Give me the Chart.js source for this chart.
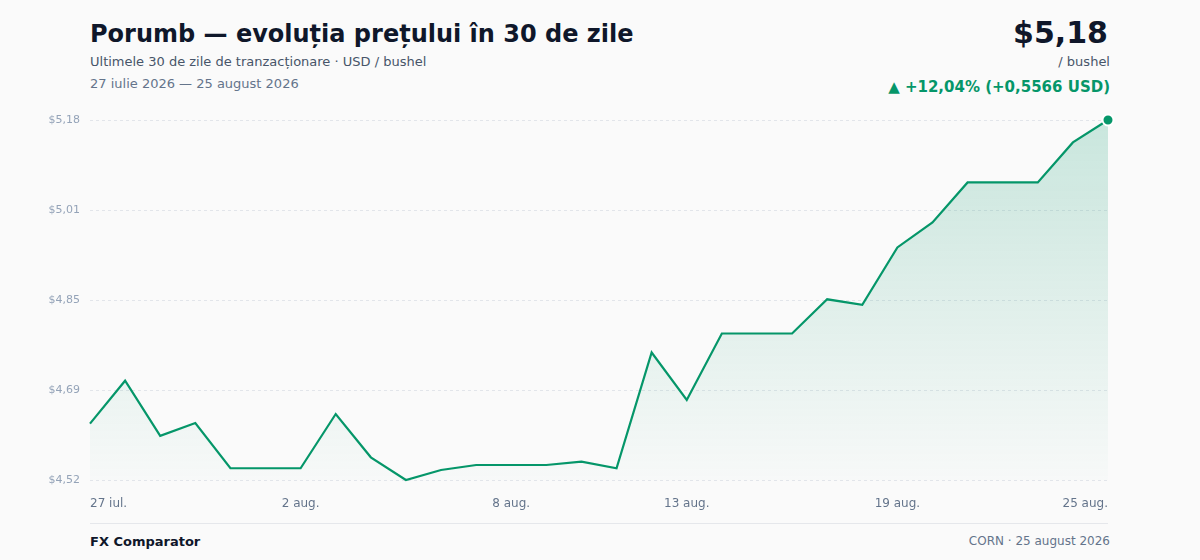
<!DOCTYPE html>
<html lang="ro">
<head>
<meta charset="utf-8">
<title>Porumb — evoluția prețului în 30 de zile</title>
<script src="https://cdn.jsdelivr.net/npm/chart.js@4.4.1/dist/chart.umd.min.js"></script>
<style>
  html, body { margin: 0; padding: 0; background: #fafafa; }
  body { width: 1200px; height: 560px; position: relative; overflow: hidden; font-family: "DejaVu Sans", sans-serif; }
  .titlu { position: absolute; left: 90px; top: 20px; font-size: 24px; font-weight: bold; color: #0f172a; }
  .sub { position: absolute; left: 90px; top: 54px; font-size: 13px; color: #475569; }
  .data { position: absolute; left: 90px; top: 76px; font-size: 13px; color: #64748b; }
  .pret { position: absolute; right: 92px; top: 15px; font-size: 30px; font-weight: bold; color: #0f172a; text-align: right; }
  .unit { position: absolute; right: 90px; top: 54px; font-size: 13px; color: #475569; }
  .var { position: absolute; right: 90px; top: 78px; font-size: 15px; font-weight: bold; color: #059669; }
  .grafic { position: absolute; left: 0; top: 100px; width: 1200px; height: 420px; }
  .linie { position: absolute; left: 90px; top: 523px; width: 1018px; height: 1px; background: #e5e7eb; }
  .sursa { position: absolute; left: 90px; top: 534px; font-size: 13px; font-weight: bold; color: #0f172a; }
  .nota { position: absolute; right: 90px; top: 534px; font-size: 12px; color: #64748b; }
</style>
</head>
<body>
<div class="titlu">Porumb — evoluția prețului în 30 de zile</div>
<div class="sub">Ultimele 30 de zile de tranzacționare · USD / bushel</div>
<div class="data">27 iulie 2026 — 25 august 2026</div>
<div class="pret">$5,18</div>
<div class="unit">/ bushel</div>
<div class="var">▲ +12,04% (+0,5566 USD)</div>
<div class="grafic"><canvas id="graficPret"></canvas></div>
<div class="linie"></div>
<div class="sursa">FX Comparator</div>
<div class="nota">CORN · 25 august 2026</div>

<script>
// Date
const zile = [
  '27 iul.', '28 iul.', '29 iul.', '30 iul.', '31 iul.', '1 aug.', '2 aug.', '3 aug.', '4 aug.', '5 aug.',
  '6 aug.', '7 aug.', '8 aug.', '9 aug.', '10 aug.', '11 aug.', '12 aug.', '13 aug.', '14 aug.', '15 aug.',
  '16 aug.', '17 aug.', '18 aug.', '19 aug.', '20 aug.', '21 aug.', '22 aug.', '23 aug.', '24 aug.', '25 aug.'
];
const preturi = [
  4.6234, 4.702, 4.601, 4.6245, 4.5415, 4.5415, 4.5415, 4.641, 4.5616, 4.52,
  4.5383, 4.5475, 4.5475, 4.5475, 4.5536, 4.5415, 4.7537, 4.6667, 4.7886, 4.7886,
  4.7886, 4.8513, 4.841, 4.9464, 4.9923, 5.0656, 5.0656, 5.0656, 5.1389, 5.18
];
const etichetePeAxa = ['27 iul.', '2 aug.', '8 aug.', '13 aug.', '19 aug.', '25 aug.'];
const valoriY = [4.52, 4.685, 4.85, 5.015, 5.18];
const eticheteY = ['$4,52', '$4,69', '$4,85', '$5,01', '$5,18'];

const verde = '#059669';
const ctx = document.getElementById('graficPret').getContext('2d');

new Chart(ctx, {
  type: 'line',
  data: {
    labels: zile,
    datasets: [{
      data: preturi,
      borderColor: verde,
      borderWidth: 2.2,
      tension: 0,
      fill: 'start',
      backgroundColor: c => {
        const area = c.chart.chartArea;
        if (!area) return 'rgba(5,150,105,0.15)';
        const g = c.chart.ctx.createLinearGradient(0, area.top, 0, area.bottom);
        g.addColorStop(0, 'rgba(5,150,105,0.2)');
        g.addColorStop(1, 'rgba(5,150,105,0.01)');
        return g;
      },
      // doar ultimul punct e marcat
      pointRadius: preturi.map((_, i) => i === preturi.length - 1 ? 5.5 : 0),
      pointBackgroundColor: verde,
      pointBorderColor: '#ffffff',
      pointBorderWidth: 2,
      clip: false
    }]
  },
  options: {
    responsive: true,
    maintainAspectRatio: false,
    animation: false,
    layout: { padding: { top: 20, right: 92, left: 0, bottom: 0 } },
    scales: {
      x: {
        grid: { display: false },
        border: { display: false },
        afterFit: s => { s.height = 40; },
        ticks: {
          autoSkip: false,
          maxRotation: 0,
          align: 'inner',
          padding: 9,
          color: '#64748b',
          font: { family: 'DejaVu Sans', size: 12 },
          callback: (v, i) => etichetePeAxa.includes(zile[i]) ? zile[i] : ''
        }
      },
      y: {
        min: valoriY[0],
        max: valoriY[valoriY.length - 1],
        afterFit: s => { s.width = 90; },
        afterBuildTicks: s => { s.ticks = valoriY.map(v => ({ value: v })); },
        grid: {
          color: '#e2e5ea',
          lineWidth: 1,
          drawTicks: false
        },
        border: { display: false, dash: [3, 3] },
        ticks: {
          padding: 10,
          color: '#94a3b8',
          font: { family: 'DejaVu Sans', size: 11 },
          callback: v => {
            const i = valoriY.findIndex(x => Math.abs(x - v) < 1e-6);
            return i >= 0 ? eticheteY[i] : '';
          }
        }
      }
    },
    plugins: {
      legend: { display: false },
      tooltip: { enabled: false }
    }
  }
});
</script>
</body>
</html>
